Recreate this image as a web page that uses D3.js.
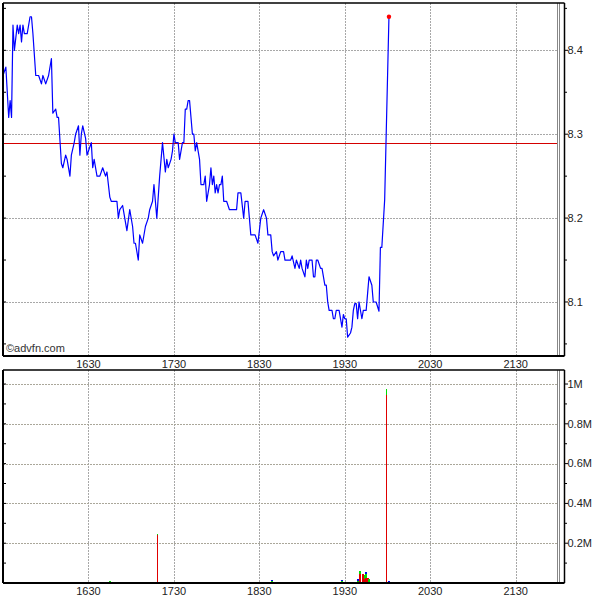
<!DOCTYPE html>
<html><head><meta charset="utf-8">
<script src="https://cdn.jsdelivr.net/npm/d3@7"></script>
<style>body{margin:0;background:#fff}svg{display:block}text{font-family:"Liberation Sans",Arial,sans-serif}</style>
</head><body>
<script>
const priceTimes = ["15:30","15:32","15:34","15:35","15:36","15:37","15:38","15:40","15:41","15:42","15:43","15:44","15:45","15:47","15:49","15:50","15:51","15:53","15:55","15:57","15:58","16:00","16:02","16:04","16:05","16:07","16:08","16:09","16:11","16:12","16:14","16:15","16:17","16:18","16:20","16:21","16:23","16:24","16:25","16:26","16:28","16:29","16:30","16:32","16:33","16:34","16:36","16:38","16:40","16:42","16:43","16:45","16:46","16:50","16:51","16:52","16:54","16:56","16:57","16:59","17:01","17:02","17:03","17:05","17:06","17:08","17:10","17:12","17:13","17:15","17:16","17:18","17:20","17:21","17:22","17:24","17:25","17:26","17:28","17:29","17:30","17:31","17:33","17:34","17:36","17:37","17:38","17:39","17:40","17:41","17:43","17:44","17:45","17:46","17:48","17:49","17:51","17:52","17:53","17:55","17:56","17:57","17:58","17:59","18:00","18:01","18:02","18:03","18:04","18:05","18:07","18:09","18:14","18:15","18:17","18:19","18:20","18:22","18:23","18:24","18:27","18:29","18:31","18:33","18:35","18:36","18:38","18:39","18:40","18:42","18:43","18:45","18:47","18:48","18:52","18:53","18:55","18:56","18:58","18:59","19:00","19:02","19:03","19:04","19:05","19:07","19:08","19:09","19:10","19:11","19:13","19:14","19:16","19:17","19:18","19:19","19:21","19:22","19:23","19:24","19:26","19:28","19:29","19:30","19:31","19:32","19:34","19:35","19:36","19:37","19:38","19:39","19:40","19:42","19:43","19:45","19:46","19:47","19:49","19:50","19:52","19:54","19:55","19:56","19:58","20:01"];
const priceValues = [8.37,8.38,8.32,8.34,8.32,8.43,8.40,8.43,8.42,8.43,8.41,8.43,8.42,8.42,8.44,8.44,8.42,8.37,8.37,8.36,8.37,8.36,8.37,8.39,8.325,8.33,8.32,8.32,8.265,8.26,8.275,8.27,8.25,8.275,8.29,8.30,8.31,8.275,8.30,8.31,8.295,8.275,8.28,8.29,8.26,8.27,8.25,8.25,8.26,8.25,8.255,8.225,8.22,8.22,8.20,8.21,8.215,8.195,8.185,8.21,8.19,8.17,8.17,8.15,8.18,8.17,8.19,8.20,8.21,8.22,8.24,8.20,8.25,8.27,8.29,8.255,8.27,8.26,8.27,8.28,8.30,8.29,8.29,8.27,8.29,8.29,8.33,8.33,8.34,8.34,8.30,8.30,8.28,8.29,8.27,8.24,8.24,8.25,8.22,8.24,8.26,8.24,8.25,8.23,8.24,8.23,8.24,8.24,8.25,8.22,8.22,8.21,8.21,8.23,8.23,8.20,8.22,8.22,8.20,8.18,8.18,8.17,8.20,8.21,8.20,8.18,8.18,8.16,8.155,8.16,8.15,8.16,8.16,8.15,8.15,8.155,8.14,8.15,8.14,8.15,8.14,8.13,8.15,8.14,8.15,8.15,8.13,8.13,8.15,8.15,8.14,8.14,8.12,8.12,8.10,8.09,8.09,8.08,8.08,8.09,8.09,8.07,8.085,8.08,8.08,8.058,8.063,8.07,8.09,8.098,8.098,8.08,8.10,8.08,8.09,8.09,8.11,8.13,8.12,8.10,8.10,8.089,8.165,8.165,8.222,8.44];
const prevClose = 8.289;

const volTimes = ["15:33","15:38","16:06","16:12","16:15","16:25","16:45","17:06","17:18","17:26","17:55","18:09","18:39","18:55","19:01","19:14","19:18","19:28","19:30","19:33","19:39","19:41","19:43","19:44","19:45","19:46","19:47","19:49","19:52","19:59","20:01"];
const volRed   = [0,0,0,0,0,0,0,0,245000,0,0,0,0,0,0,0,0,0,0,0,0,45000,45000,20000,25000,25000,0,0,0,945000,0];
const volGreen = [0,0,5000,0,0,0,8000,0,3000,0,0,0,10000,0,0,0,0,10000,0,0,12000,17000,0,18000,20000,0,20000,0,0,30000,0];
const volBlue  = [6000,4000,0,4000,6000,4000,0,5000,0,5000,5000,4000,5000,4000,4000,5000,5000,4000,4000,4000,6000,0,0,0,10000,0,0,4000,4000,0,12000];

const timeTicks = ["16:30","17:30","18:30","19:30","20:30","21:30"];
const priceTicks = [8.1,8.2,8.3,8.4];
const priceMinor = [8.05,8.15,8.25,8.35,8.45];
const volTicks = [200000,400000,600000,800000,1000000];
const volTickLabels = ["0.2M","0.4M","0.6M","0.8M","1M"];
const volMinor = [100000,300000,500000,700000,900000];

const toMin = s => { const [h,m] = s.split(":").map(Number); return h*60+m; };

const W = 600, H = 600;
const L = 3, R = 557, AX = 564;
const top1 = 3, bot1 = 356, top2 = 370, bot2 = 583;

const svg = d3.select("body").append("svg").attr("width", W).attr("height", H);

const x = d3.scaleLinear().domain([toMin("15:30"), toMin("21:59")]).range([L, R]);
const y = d3.scaleLinear().domain([8.0356, 8.4564]).range([bot1, top1]);
const yv = d3.scaleLinear().domain([0, 1070500]).range([bot2, top2]);

const gridCol = "#a8a8a8";
function vgrid(t, b) {
  svg.append("g").selectAll("line").data(timeTicks).join("line")
    .attr("x1", d => Math.round(x(toMin(d))) + 0.5).attr("x2", d => Math.round(x(toMin(d))) + 0.5)
    .attr("y1", t).attr("y2", b).attr("stroke", gridCol).attr("stroke-dasharray", "2,1");
}
vgrid(top1, bot1); vgrid(top2, bot2);

svg.append("g").selectAll("line").data(priceTicks).join("line")
  .attr("x1", L).attr("x2", R).attr("y1", d => Math.round(y(d)) + 0.5).attr("y2", d => Math.round(y(d)) + 0.5)
  .attr("stroke", gridCol).attr("stroke-dasharray", "2,1");
svg.append("g").selectAll("line").data(volTicks).join("line")
  .attr("x1", L).attr("x2", R).attr("y1", d => Math.round(yv(d)) + 0.5).attr("y2", d => Math.round(yv(d)) + 0.5)
  .attr("stroke", "#aaa79a").attr("stroke-dasharray", "2,1");

[R + 0.5, R + 2.5].forEach(xx => {
  svg.append("line").attr("x1", xx).attr("x2", xx).attr("y1", top1).attr("y2", bot1).attr("stroke", "#888");
  svg.append("line").attr("x1", xx).attr("x2", xx).attr("y1", top2).attr("y2", bot2).attr("stroke", "#888");
});

svg.append("line").attr("x1", L).attr("x2", R).attr("y1", Math.round(y(prevClose)) + 0.5).attr("y2", Math.round(y(prevClose)) + 0.5)
  .attr("stroke", "#d40000").attr("stroke-width", 1);

const pts = priceTimes.map((t, i) => [toMin(t), priceValues[i]]);
svg.append("path").datum(pts)
  .attr("d", d3.line().x(d => x(d[0])).y(d => y(d[1])))
  .attr("fill", "none").attr("stroke", "#0000ff").attr("stroke-width", 1.2).attr("stroke-linejoin", "round");
const last = pts[pts.length - 1];
svg.append("circle").attr("cx", x(last[0])).attr("cy", y(last[1])).attr("r", 2.2).attr("fill", "#ff0000");

const vol = volTimes.map((t, i) => ({ t: toMin(t), r: volRed[i], g: volGreen[i], b: volBlue[i] }));
const vg = svg.append("g").attr("shape-rendering", "crispEdges");
vol.forEach(d => {
  const segs = [["#e00000", 0, d.r], ["#00dd00", d.r, d.r + d.g], ["#0000ee", d.r + d.g, d.r + d.g + d.b]];
  const tot = d.r + d.g + d.b;
  const w = tot > 100000 ? 1 : 2;
  segs.forEach(([c, a, b]) => {
    if (b > a) vg.append("rect").attr("x", Math.round(x(d.t)) - (w === 1 ? 0 : 1)).attr("width", w)
      .attr("y", yv(b)).attr("height", Math.max(1, yv(a) - yv(b))).attr("fill", c);
  });
});

function frame(t, b) {
  svg.append("line").attr("x1", L).attr("x2", L).attr("y1", t).attr("y2", b).attr("stroke", "#000").attr("stroke-width", 2);
  svg.append("line").attr("x1", L).attr("x2", AX + 0.5).attr("y1", t).attr("y2", t).attr("stroke", "#000").attr("stroke-width", 1.5);
  svg.append("line").attr("x1", L).attr("x2", AX + 0.5).attr("y1", b).attr("y2", b).attr("stroke", "#000").attr("stroke-width", 2);
  svg.append("line").attr("x1", AX + 0.5).attr("x2", AX + 0.5).attr("y1", t).attr("y2", b).attr("stroke", "#000").attr("stroke-width", 1.5);
}
frame(top1, bot1); frame(top2, bot2);

const ra = svg.append("g");
ra.selectAll("line.maj").data(priceTicks).join("line").attr("class", "maj")
  .attr("x1", AX).attr("x2", AX + 4).attr("y1", d => y(d)).attr("y2", d => y(d)).attr("stroke", "#000");
ra.selectAll("line.min").data(priceMinor.filter(v => y(v) > top1 && y(v) < bot1)).join("line").attr("class", "min")
  .attr("x1", AX).attr("x2", AX + 3).attr("y1", d => y(d)).attr("y2", d => y(d)).attr("stroke", "#000");
ra.selectAll("text").data(priceTicks).join("text")
  .attr("x", AX + 3.5).attr("y", d => y(d)).attr("dy", "0.35em").attr("font-size", 11).attr("fill", "#222")
  .text(d => d3.format(".1f")(d));
svg.append("g").selectAll("line").data(priceTicks.concat(priceMinor).filter(v => y(v) > top1 && y(v) < bot1)).join("line")
  .attr("x1", L).attr("x2", L + 3).attr("y1", d => y(d)).attr("y2", d => y(d)).attr("stroke", "#000");

const rv = svg.append("g");
rv.selectAll("line.maj").data(volTicks).join("line").attr("class", "maj")
  .attr("x1", AX).attr("x2", AX + 4).attr("y1", d => yv(d)).attr("y2", d => yv(d)).attr("stroke", "#000");
rv.selectAll("line.min").data(volMinor).join("line").attr("class", "min")
  .attr("x1", AX).attr("x2", AX + 3).attr("y1", d => yv(d)).attr("y2", d => yv(d)).attr("stroke", "#000");
rv.selectAll("text").data(volTicks).join("text")
  .attr("x", AX + 3.5).attr("y", d => yv(d)).attr("dy", "0.35em").attr("font-size", 11).attr("fill", "#222")
  .text((d, i) => volTickLabels[i]);
svg.append("g").selectAll("line").data(volTicks.concat(volMinor)).join("line")
  .attr("x1", L).attr("x2", L + 3).attr("y1", d => yv(d)).attr("y2", d => yv(d)).attr("stroke", "#000");

[364, 591].forEach(yy => {
  svg.append("g").selectAll("text").data(timeTicks).join("text")
    .attr("x", d => x(toMin(d))).attr("y", yy).attr("dy", "0.35em").attr("text-anchor", "middle")
    .attr("font-size", 11).attr("fill", "#222").text(d => d.replace(":", ""));
});

svg.append("text").attr("x", 6).attr("y", 348).attr("dy", "0.35em").attr("font-size", 11).attr("fill", "#333").text("©advfn.com");
</script>
</body></html>
